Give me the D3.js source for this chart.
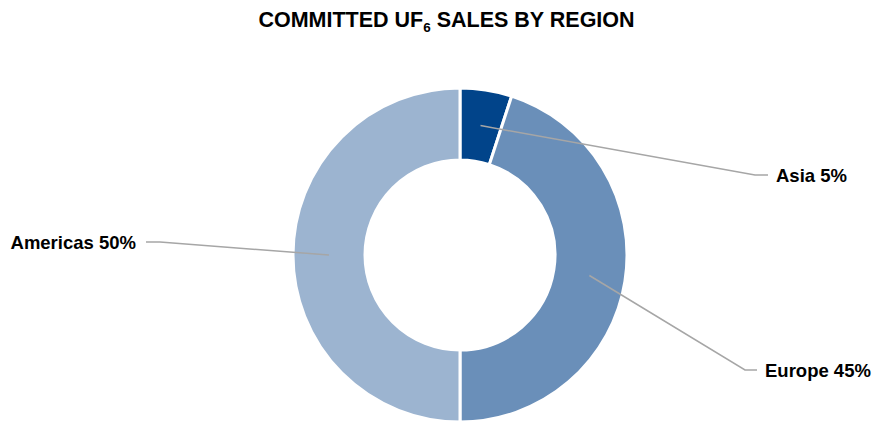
<!DOCTYPE html>
<html>
<head>
<meta charset="utf-8">
<script src="https://cdn.jsdelivr.net/npm/d3@7/dist/d3.min.js"></script>
<style>
  html, body { margin: 0; padding: 0; background: #fff; }
  svg { display: block; font-family: "Liberation Sans", Arial, sans-serif; }
</style>
</head>
<body>
<svg id="chart" width="872" height="422"></svg>
<script>
const regions = ["Asia", "Europe", "Americas"];
const shares = [5, 45, 50];
const colors = ["#01448a", "#6a8fb9", "#9cb4d0"];

// label layout (elbow point, text anchor side)
const labelLayout = {
  Asia:     { elbow: [755, 175], end: [768, 175], anchor: "start" },
  Europe:   { elbow: [745, 370], end: [757, 370], anchor: "start" },
  Americas: { elbow: [160, 242], end: [146, 242], anchor: "end" }
};

const svg = d3.select("#chart");
const cx = 460, cy = 255, rOuter = 167, rInner = 95;

// title
const title = svg.append("text")
  .attr("x", 446.5).attr("y", 27)
  .attr("text-anchor", "middle")
  .attr("font-size", 21.5).attr("font-weight", "bold").attr("fill", "#000");
title.append("tspan").text("COMMITTED UF");
title.append("tspan").attr("font-size", 13.5).attr("dy", 5).text("6");
title.append("tspan").attr("dy", -5).text(" SALES BY REGION");

const data = regions.map((r, i) => ({ region: r, value: shares[i], color: colors[i] }));
const pie = d3.pie().value(d => d.value).sort(null);
const arcs = pie(data);
const arc = d3.arc().innerRadius(rInner).outerRadius(rOuter);

const g = svg.append("g").attr("transform", `translate(${cx},${cy})`);
g.selectAll("path.slice").data(arcs).enter().append("path")
  .attr("class", "slice")
  .attr("d", arc)
  .attr("fill", d => d.data.color)
  .attr("stroke", "#fff").attr("stroke-width", 3);

// leader lines
arcs.forEach(a => {
  const c = arc.centroid(a);
  const L = labelLayout[a.data.region];
  const pts = [[cx + c[0], cy + c[1]], L.elbow, L.end];
  svg.append("path")
    .attr("d", d3.line()(pts))
    .attr("fill", "none").attr("stroke", "#a6a6a6").attr("stroke-width", 1.5);
  svg.append("text")
    .attr("x", L.anchor === "start" ? L.end[0] + 8 : L.end[0] - 10)
    .attr("y", L.end[1] + 7)
    .attr("text-anchor", L.anchor)
    .attr("font-size", 18.5).attr("font-weight", "bold").attr("fill", "#000")
    .text(`${a.data.region} ${a.data.value}%`);
});
</script>
</body>
</html>
